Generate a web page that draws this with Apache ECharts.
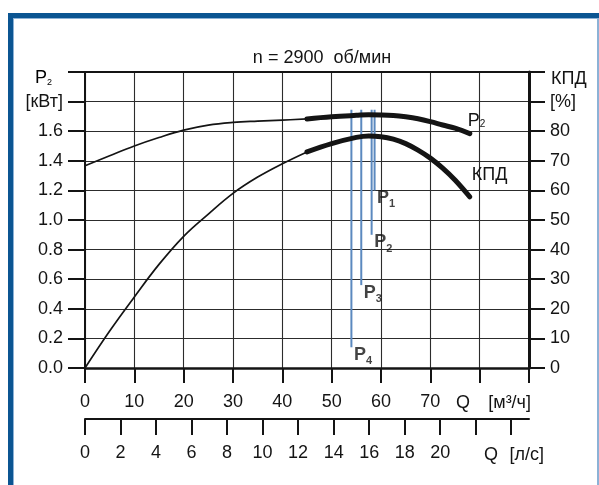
<!DOCTYPE html>
<html>
<head>
<meta charset="utf-8">
<script src="https://cdn.jsdelivr.net/npm/echarts@6/dist/echarts.min.js"></script>
<style>
  html, body { margin: 0; padding: 0; background: #fff; }
  #chart { width: 599px; height: 485px; }
</style>
</head>
<body>
<div id="chart"></div>
<script>
// Flow rate Q [m³/h] at which the pump curves are sampled
const flowM3h = [0, 5, 10, 15, 20, 25, 30, 35, 40, 45, 50, 55, 57.5, 60, 62.5, 65, 67.5, 70, 72.5, 75, 78];
// Shaft power P2 [kW]
const powerKW = [1.366, 1.434, 1.50, 1.557, 1.607, 1.641, 1.659, 1.668, 1.675, 1.683, 1.697, 1.707, 1.711, 1.710, 1.706, 1.697, 1.684, 1.665, 1.642, 1.620, 1.584];
// Efficiency КПД [%]
const efficiency = [0, 12.5, 24, 35, 44.5, 52, 59, 64.5, 69, 73, 75.8, 77.9, 78.4, 78.15, 77.3, 75.8, 73.6, 70.9, 67.5, 63.5, 57.8];
// Working range (bold part of the curves) starts at this flow
const workStartQ = 45;

// Operating-point markers P1..P4 (vertical lines)
const markerNames = ['1', '2', '3', '4'];
const markerQ = [58.7, 58.1, 56.0, 54.0];
const markerBottomKW = [1.20, 0.90, 0.56, 0.14];
const markerTopKW = 1.745;

// Axis tick labels
const qM3hLabels = [0, 10, 20, 30, 40, 50, 60, 70];
const qLsTicks = [0, 2, 4, 6, 8, 10, 12, 14, 16, 18, 20, 22, 24];
const qLsLabels = [0, 2, 4, 6, 8, 10, 12, 14, 16, 18, 20];
const powerTickLabels = ['0.0', '0.2', '0.4', '0.6', '0.8', '1.0', '1.2', '1.4', '1.6', '[кВт]', ''];
const effTickLabels = ['0', '10', '20', '30', '40', '50', '60', '70', '80', '[%]', ''];

const FONT = "'Liberation Sans', Arial, Helvetica, sans-serif";
const INK = '#141414';
const GRID = '#2c2c2c';
const MARK_BLUE = '#5b89bf';
const FRAME_BLUE = '#0b5592';
const FRAME_LIGHT = '#8cb2d6';

// rich-text styles for "P" with a lowered index
function subRich(size, subSize, pad, bold) {
  const w = bold ? 'bold' : 'normal';
  return {
    p: { fontSize: size, fontWeight: w, fontFamily: FONT, color: INK, lineHeight: size, verticalAlign: 'top' },
    s: { fontSize: subSize, fontWeight: w, fontFamily: FONT, color: INK, lineHeight: subSize,
         padding: [pad, 0, 0, 0], verticalAlign: 'top' }
  };
}

function pairs(xs, ys, keep) {
  const out = [];
  xs.forEach((x, i) => { if (keep(x)) out.push([x, ys[i]]); });
  return out;
}

const curveLine = (width) => ({ color: INK, width: width, cap: 'round', join: 'round' });

const series = [
  {
    type: 'line', yAxisIndex: 0, z: 4, smooth: 0.4, symbol: 'none',
    lineStyle: curveLine(1.7),
    data: pairs(flowM3h, powerKW, q => q <= workStartQ)
  },
  {
    type: 'line', yAxisIndex: 0, z: 4, smooth: 0.4, symbol: 'none',
    lineStyle: curveLine(5),
    data: pairs(flowM3h, powerKW, q => q >= workStartQ),
    endLabel: {
      show: true, distance: 0, offset: [-2, -13],
      formatter: '{p|P}{s|2}', rich: subRich(18, 10, 8, false)
    }
  },
  {
    type: 'line', yAxisIndex: 1, z: 4, smooth: 0.4, symbol: 'none',
    lineStyle: curveLine(1.7),
    data: pairs(flowM3h, efficiency, q => q <= workStartQ)
  },
  {
    type: 'line', yAxisIndex: 1, z: 4, smooth: 0.4, symbol: 'none',
    lineStyle: curveLine(5),
    data: pairs(flowM3h, efficiency, q => q >= workStartQ),
    endLabel: {
      show: true, distance: 0, offset: [2, -22],
      formatter: 'КПД', fontSize: 18, fontFamily: FONT, color: INK
    }
  }
];

// vertical marker lines
markerQ.forEach((q, i) => {
  series.push({
    type: 'line', yAxisIndex: 0, z: 3, symbol: 'none',
    lineStyle: { color: MARK_BLUE, width: 2 },
    data: [[q, markerTopKW], [q, markerBottomKW[i]]]
  });
});

// marker captions P1..P4 below the lower ends
series.push({
  type: 'scatter', yAxisIndex: 0, z: 5, symbolSize: 1,
  itemStyle: { color: 'rgba(0,0,0,0)' },
  data: markerQ.map((q, i) => ({ value: [q, markerBottomKW[i]], name: markerNames[i] })),
  label: {
    show: true, position: [3, -1],
    formatter: p => '{p|P}{s|' + p.name + '}',
    rich: subRich(18, 11, 10, true)
  }
});

const axisLineStyle = (w) => ({ color: INK, width: w });

const option = {
  animation: false,
  backgroundColor: '#ffffff',
  textStyle: { fontFamily: FONT },
  grid: { left: 85, right: 70, top: 72, height: 296, containLabel: false },
  xAxis: [
    {
      type: 'value', position: 'bottom', min: 0, max: 90, interval: 10,
      axisLine: { show: true, onZero: false, lineStyle: axisLineStyle(2.5) },
      axisTick: { show: true, length: 15, lineStyle: axisLineStyle(2) },
      axisLabel: { show: true, margin: 25, fontSize: 18, color: INK, fontFamily: FONT,
                   customValues: qM3hLabels, formatter: v => String(v) },
      splitLine: { show: true, lineStyle: { color: GRID, width: 1.1 } }
    },
    {
      type: 'value', position: 'bottom', offset: 51, min: 0, max: 25, interval: 2,
      axisLine: { show: true, onZero: false, lineStyle: axisLineStyle(2) },
      axisTick: { show: true, length: 16, lineStyle: axisLineStyle(2), customValues: qLsTicks },
      axisLabel: { show: true, margin: 25, fontSize: 18, color: INK, fontFamily: FONT,
                   customValues: qLsLabels, formatter: v => String(v) },
      splitLine: { show: false }
    },
    {
      type: 'value', position: 'top', min: 0, max: 90,
      axisLine: { show: true, onZero: false, lineStyle: axisLineStyle(2) },
      axisTick: { show: false }, axisLabel: { show: false }, splitLine: { show: false }
    }
  ],
  yAxis: [
    {
      type: 'value', position: 'left', min: 0, max: 2.0, interval: 0.2,
      axisLine: { show: true, onZero: false, lineStyle: axisLineStyle(2) },
      axisTick: { show: true, length: 17, lineStyle: axisLineStyle(2) },
      axisLabel: { show: true, margin: 22, fontSize: 18, color: INK, fontFamily: FONT,
                   formatter: v => powerTickLabels[Math.round(v / 0.2)] || '' },
      splitLine: { show: true, lineStyle: { color: GRID, width: 1.1 } }
    },
    {
      type: 'value', position: 'right', min: 0, max: 100, interval: 10,
      axisLine: { show: true, onZero: false, lineStyle: axisLineStyle(3) },
      axisTick: { show: true, length: 16, lineStyle: axisLineStyle(2) },
      axisLabel: { show: true, margin: 21, fontSize: 18, color: INK, fontFamily: FONT,
                   formatter: v => effTickLabels[Math.round(v / 10)] || '' },
      splitLine: { show: false }
    }
  ],
  graphic: [
    // frame
    { type: 'rect', z: 0, shape: { x: 8, y: 13, width: 591, height: 5 }, style: { fill: FRAME_BLUE } },
    { type: 'rect', z: 0, shape: { x: 8, y: 13, width: 5, height: 472 }, style: { fill: FRAME_BLUE } },
    { type: 'rect', z: 0, shape: { x: 13, y: 18, width: 586, height: 1 }, style: { fill: FRAME_LIGHT } },
    { type: 'rect', z: 0, shape: { x: 13, y: 18, width: 1, height: 467 }, style: { fill: FRAME_LIGHT } },
    { type: 'rect', z: 0, shape: { x: 597, y: 18, width: 2, height: 467 }, style: { fill: FRAME_LIGHT } },
    // title
    { type: 'text', x: 322, y: 58.5, z: 10,
      style: { text: 'n = 2900  об/мин', fontSize: 18, fontFamily: FONT, fill: INK,
               textAlign: 'center', textVerticalAlign: 'middle' } },
    // axis captions
    { type: 'text', x: 35, y: 69.5, z: 10,
      style: { text: '{p|P}{s|2}', rich: subRich(18, 9, 9, false), textAlign: 'left', textVerticalAlign: 'top' } },
    { type: 'text', x: 551, y: 79, z: 10,
      style: { text: 'КПД', fontSize: 18, fontFamily: FONT, fill: INK, textAlign: 'left', textVerticalAlign: 'middle' } },
    { type: 'text', x: 456, y: 403, z: 10,
      style: { text: 'Q', fontSize: 18, fontFamily: FONT, fill: INK, textAlign: 'left', textVerticalAlign: 'middle' } },
    { type: 'text', x: 531, y: 403, z: 10,
      style: { text: '[м³/ч]', fontSize: 18, fontFamily: FONT, fill: INK, textAlign: 'right', textVerticalAlign: 'middle' } },
    { type: 'text', x: 484, y: 455, z: 10,
      style: { text: 'Q', fontSize: 18, fontFamily: FONT, fill: INK, textAlign: 'left', textVerticalAlign: 'middle' } },
    { type: 'text', x: 544, y: 455, z: 10,
      style: { text: '[л/с]', fontSize: 18, fontFamily: FONT, fill: INK, textAlign: 'right', textVerticalAlign: 'middle' } }
  ],
  series: series
};

const chart = echarts.init(document.getElementById('chart'), null, { renderer: 'canvas' });
chart.setOption(option);
</script>
</body>
</html>
